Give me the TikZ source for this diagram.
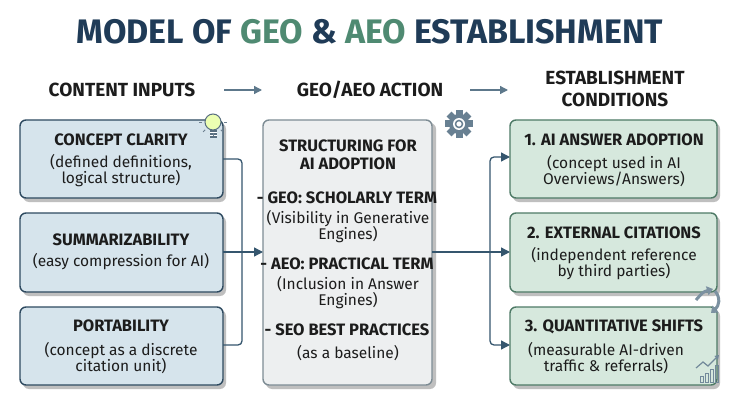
\documentclass[tikz,border=0pt]{standalone}
\usepackage{fontspec}
\setmainfont{Fira Sans}
\usetikzlibrary{arrows.meta,calc}
\definecolor{navy}{HTML}{1F3B57}
\definecolor{gr}{HTML}{4F8A72}
\definecolor{lfill}{HTML}{D6E4EC}
\definecolor{lbord}{HTML}{2E4A60}
\definecolor{mfill}{HTML}{EDEFF0}
\definecolor{mbord}{HTML}{7D8C94}
\definecolor{rfill}{HTML}{D6E8DD}
\definecolor{rbord}{HTML}{4E7A66}
\definecolor{conn}{HTML}{35566E}
\definecolor{txt}{HTML}{1C1C1C}
\begin{document}
\begin{tikzpicture}[x=1pt,y=-1pt,
  box/.style={rounded corners=6pt,line width=1.4pt},
  shadow/.style={rounded corners=6pt,fill=black!25},
  tt/.style={font=\fontsize{16.5}{19}\selectfont\bfseries,text=txt,align=center},
  bd/.style={font=\fontsize{15.5}{18}\selectfont,text=txt,align=center},
  hd/.style={font=\fontsize{19}{22}\selectfont\bfseries,text=txt,align=center},
  con/.style={conn,line width=1.3pt,rounded corners=4pt},
  arr/.style={-{Triangle[length=9pt,width=9pt]}}]
\path[use as bounding box,fill=white] (0,0) rectangle (740,404);
\node[font=\fontsize{34}{38}\selectfont\bfseries] (title) at (370,32)
 {\textcolor{navy}{MODEL OF}~\textcolor{gr}{GEO}~\textcolor{navy}{\&}~\textcolor{gr}{AEO}~\textcolor{navy}{ESTABLISHMENT}};
\node[hd] (h1) at (122,90) {CONTENT INPUTS};
\node[hd] (h2) at (370,90) {GEO/AEO ACTION};
\node[hd] (h3) at (615,89) {ESTABLISHMENT\\CONDITIONS};
\coordinate (a1s) at (224,90); \coordinate (a1e) at (262,90);
\coordinate (a2s) at (470,90); \coordinate (a2e) at (508,90);
\draw[conn!80,line width=1.3pt,-{Triangle[length=8pt,width=8pt]}] (a1s) -- (a1e);
\draw[conn!80,line width=1.3pt,-{Triangle[length=8pt,width=8pt]}] (a2s) -- (a2e);
% left
\foreach \y/\h in {120/78,213/79,307/78}{
 \fill[shadow] (23,\y+3) rectangle (226,\y+\h+4);
 \draw[box,draw=lbord,fill=lfill] (20,\y) rectangle (223,\y+\h);}
\node[tt] (l1t) at (121,140) {CONCEPT CLARITY};
\node[bd] (l1b) at (121,171) {(defined definitions,\\[-2pt]logical structure)};
\node[tt] (l2t) at (121,240) {SUMMARIZABILITY};
\node[bd] (l2b) at (121,262) {(easy compression for AI)};
\node[tt] (l3t) at (121,326) {PORTABILITY};
\node[bd] (l3b) at (121,358) {(concept as a discrete\\[-2pt]citation unit)};
% middle
\fill[shadow] (266,123) rectangle (436,389);
\draw[box,draw=mbord,fill=mfill] (263,120) rectangle (432,385);
\node[tt,anchor=north] (m1) at (348,136) {STRUCTURING FOR\\[-1pt]AI ADOPTION};
\node[tt] (m2) at (347,198) {- GEO: SCHOLARLY TERM};
\node[bd] (m3) at (348,227) {(Visibility in Generative\\[-2pt]Engines)};
\node[tt] (m4) at (347,264) {- AEO: PRACTICAL TERM};
\node[bd] (m5) at (348,293) {(Inclusion in Answer\\[-2pt]Engines)};
\node[tt] (m6) at (347,330) {- SEO BEST PRACTICES};
\node[bd] (m7) at (348,353) {(as a baseline)};
% right
\foreach \y/\h in {120/78,213/79,307/78}{
 \fill[shadow] (513,\y+3) rectangle (720,\y+\h+4);
 \draw[box,draw=rbord,fill=rfill] (510,\y) rectangle (717,\y+\h);}
\node[tt] (r1t) at (614,140) {1. AI ANSWER ADOPTION};
\node[bd] (r1b) at (614,171) {(concept used in AI\\[-2pt]Overviews/Answers)};
\node[tt] (r2t) at (614,233) {2. EXTERNAL CITATIONS};
\node[bd] (r2b) at (614,264) {(independent reference\\[-2pt]by third parties)};
\node[tt] (r3t) at (614,327) {3. QUANTITATIVE SHIFTS};
\node[bd] (r3b) at (606,358) {(measurable AI-driven\\[-2pt]traffic \& referrals)};
% connectors
\coordinate (L1) at (223,159); \coordinate (L2) at (223,252); \coordinate (L3) at (223,345);
\coordinate (M) at (263,252); \coordinate (Mo) at (432,252);
\coordinate (R1) at (510,157); \coordinate (R2) at (510,252); \coordinate (R3) at (510,345);
\draw[con] (L1) -- (242,159) -- (242,345) -- (L3);
\draw[con,arr] (L2) -- (M);
\draw[con,arr] (Mo) -- (R2);
\draw[con,arr] (490,252) |- (R1);
\draw[con,arr] (490,252) |- (R3);
% lightbulb
\begin{scope}[shift={(213,136)}]
\draw[line width=1pt,draw=lbord!80,fill=green!25!yellow!30] (0,-14) circle (8);
\fill[lbord!80] (-3.5,-6) rectangle (3.5,2);
\draw[white,line width=0.6pt] (-3.5,-3.5) -- (3.5,-3.5) (-3.5,-0.8) -- (3.5,-0.8);
\foreach \a in {90,45,135,0,180}{\draw[lbord!70,line width=0.8pt] ($(0,-14)+(\a:11)$) -- ($(0,-14)+(\a:14)$);}
\end{scope}
% gear
\begin{scope}[shift={(459,124)}]
\foreach \a in {0,45,...,315}{\fill[conn!75,rotate=\a] (-3.5,-14) rectangle (3.5,-8);}
\fill[conn!75] (0,0) circle (10);
\fill[white] (0,0) circle (6);
\draw[conn!75,line width=1.5pt] (0,0) circle (3.5);
\end{scope}
% circular arrows
\draw[conn!65,line width=3pt,-{Triangle[length=6pt,width=9pt]}] (696,300) .. controls (703,292) .. (713,289);
\draw[conn!65,line width=3pt,-{Triangle[length=6pt,width=9pt]}] (715,291) .. controls (721,298) and (719,306) .. (711,313);
% chart
\begin{scope}[shift={(700,382)}]
\foreach \x/\h in {0/6,5/9,10/13,15/17}{\draw[conn!70,line width=0.8pt] (\x,0) rectangle (\x+3.5,-\h);}
\draw[conn!70,line width=1.2pt,-{Triangle[length=4pt,width=5pt]}] (-4,-14) -- (3,-20) -- (8,-16) -- (19,-27);
\end{scope}
\end{tikzpicture}
\end{document}
